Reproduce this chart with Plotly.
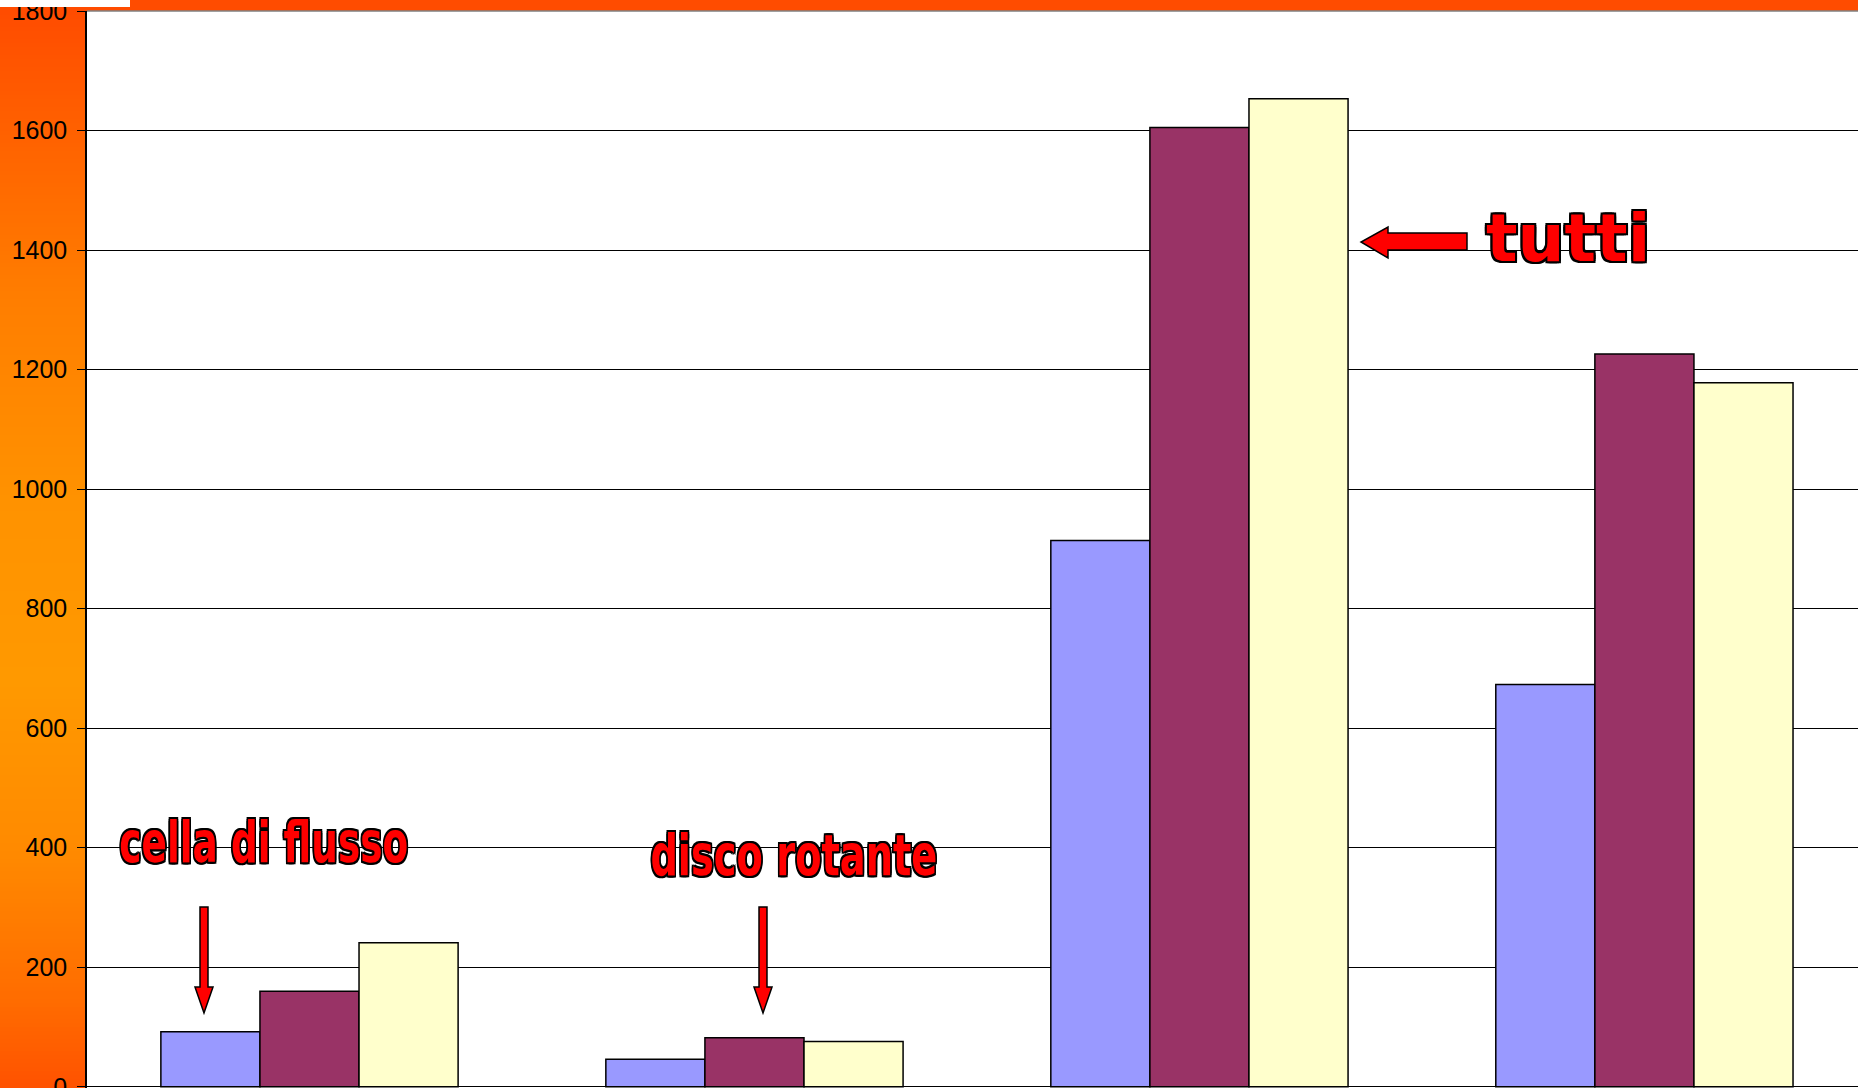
import plotly.graph_objects as go

# ---- data ----
categories = ["cella di flusso", "disco rotante", "tutti A", "tutti B"]
serie1 = [92, 46, 914, 673]
serie2 = [160, 82, 1605, 1226]
serie3 = [241, 76, 1653, 1178]
series_names = ["Serie 1", "Serie 2", "Serie 3"]
y_ticks = [0, 200, 400, 600, 800, 1000, 1200, 1400, 1600, 1800]

W, H = 1858, 1088
ML, MT, MB, MR = 87, 11, 0, 0
PW, PH = W - ML - MR, H - MT - MB


def px(x):
    return (x - ML) / PW


def py(y):
    return (H - MB - y) / PH


colors = ["#9999FF", "#993366", "#FFFFCC"]
fig = go.Figure()
for name, vals, c in zip(series_names, [serie1, serie2, serie3], colors):
    fig.add_trace(go.Bar(x=categories, y=vals, name=name,
                         marker=dict(color=c, line=dict(color="#000000", width=1.5))))

shapes = []
# left gradient strip
stops = [(11, (255, 76, 0)), (300, (255, 126, 0)), (500, (255, 146, 0)),
         (680, (255, 153, 0)), (850, (255, 138, 0)), (1000, (255, 108, 0)),
         (1088, (255, 82, 0))]


def col_at(y):
    for (y0, c0), (y1, c1) in zip(stops[:-1], stops[1:]):
        if y0 <= y <= y1:
            t = (y - y0) / (y1 - y0)
            return "rgb(%d,%d,%d)" % tuple(round(a + (b - a) * t) for a, b in zip(c0, c1))
    return "rgb(255,82,0)"


step = 4
for y in range(11, 1088, step):
    shapes.append(dict(type="rect", xref="paper", yref="paper", layer="below",
                       x0=px(0), x1=px(ML), y0=py(min(y + step + 1, 1089)), y1=py(y),
                       fillcolor=col_at(y + step / 2), line=dict(width=0)))

# white box at top-left
shapes.append(dict(type="rect", xref="paper", yref="paper", layer="above",
                   x0=px(0), x1=px(130), y0=py(7), y1=py(-5),
                   fillcolor="white", line=dict(width=0)))
# top border of plot area
shapes.append(dict(type="line", xref="paper", yref="paper", x0=0, x1=1, y0=1, y1=1,
                   line=dict(color="#808080", width=1.5)))


def down_arrow(cx):
    pts = [(cx - 4, 907), (cx + 4, 907), (cx + 4, 987), (cx + 9, 987), (cx, 1013),
           (cx - 9, 987), (cx - 4, 987)]
    return pts


def left_arrow():
    return [(1467, 233), (1467, 250), (1388, 250), (1388, 258), (1361, 242),
            (1388, 227), (1388, 233)]


for pts in [down_arrow(204), down_arrow(763), left_arrow()]:
    path = "M " + " L ".join("%.5f,%.5f" % (px(x), py(y)) for x, y in pts) + " Z"
    shapes.append(dict(type="path", xref="paper", yref="paper", path=path, layer="above",
                       fillcolor="#FF0000", line=dict(color="#000000", width=1.5)))

outline = ", ".join("%dpx %dpx 0 #000" % (dx, dy) for dx, dy in
                    [(-2, -2), (2, -2), (-2, 2), (2, 2), (0, 2), (2, 0), (0, -2), (-2, 0)])

annotations = [
    dict(text="cella di flusso", x=px(264), y=py(842), xref="paper", yref="paper",
         showarrow=False, xanchor="center", yanchor="middle",
         font=dict(family="Liberation Sans Narrow, DejaVu Sans Condensed", size=57,
                   weight="bold", color="#FF0000", shadow=outline)),
    dict(text="disco rotante", x=px(794), y=py(855), xref="paper", yref="paper",
         showarrow=False, xanchor="center", yanchor="middle",
         font=dict(family="Liberation Sans Narrow, DejaVu Sans Condensed", size=57,
                   weight="bold", color="#FF0000", shadow=outline)),
    dict(text="tutti", x=px(1568), y=py(238), xref="paper", yref="paper",
         showarrow=False, xanchor="center", yanchor="middle",
         font=dict(family="DejaVu Sans", size=66, weight="bold",
                   color="#FF0000", shadow=outline)),
]

fig.update_layout(
    width=W, height=H, autosize=False,
    margin=dict(l=ML, r=MR, t=MT, b=MB, pad=0, autoexpand=False),
    paper_bgcolor="#FF4C00", plot_bgcolor="white",
    barmode="group", bargap=0.332, bargroupgap=0,
    showlegend=False,
    shapes=shapes, annotations=annotations,
    font=dict(family="Liberation Sans, Arial", color="#000000"),
)
fig.update_xaxes(range=[-0.5, 3.48], showticklabels=False, showgrid=False,
                 showline=False, zeroline=False, ticks="", automargin=False)
fig.update_yaxes(range=[-2, 1800], tickvals=y_ticks, showgrid=True,
                 gridcolor="#000000", gridwidth=1, zeroline=False,
                 showline=True, linecolor="#000000", linewidth=1.5,
                 ticks="outside", ticklen=8, tickcolor="#000000",
                 tickfont=dict(size=25, color="#000000"), ticklabelstandoff=5,
                 ticklabeloverflow="allow", automargin=False)

post = """
document.body.style.margin = '0';
document.documentElement.style.overflow = 'hidden';
var gd = document.getElementById('{plot_id}');
var widths = {'cella di flusso': 289, 'disco rotante': 287};
gd.querySelectorAll('text.annotation-text').forEach(function(t) {
  var w = widths[t.textContent];
  if (w) { t.setAttribute('textLength', w); t.setAttribute('lengthAdjust', 'spacingAndGlyphs'); }
});
"""

fig.write_html("out.html", post_script=post, config={"displayModeBar": False})
